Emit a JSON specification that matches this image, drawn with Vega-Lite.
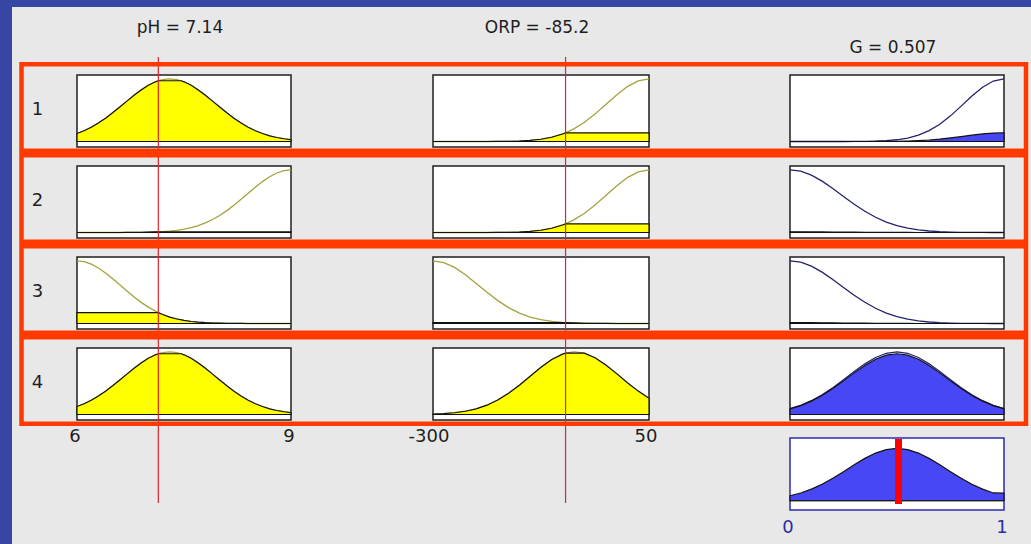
{
"$schema":"https://vega.github.io/schema/vega-lite/v6.json",
"background":"#3746a5",
"padding":{"left":12,"top":7,"right":0,"bottom":0},
"columns":3,
"spacing":0,
"bounds":"flush",
"config":{"view":{"stroke":null,"strokeWidth":0,"fill":"#e8e8e8"},"concat":{"spacing":0},"text":{"font":"DejaVu Sans"}},
"datasets":{
"vars":[{"var":"pH","lo":6,"hi":9,"value":7.14,"title":"pH = 7.14"},{"var":"ORP","lo":-300,"hi":50,"value":-85.2,"title":"ORP = -85.2"},{"var":"G","lo":0,"hi":1,"value":0.507,"title":"G = 0.507"}],
"rules":[{"rule":1,"label":"1"},{"rule":2,"label":"2"},{"rule":3,"label":"3"},{"rule":4,"label":"4"}],
"agg":[{"x":0,"mu":0.0912},{"x":0.05,"mu":0.1429},{"x":0.1,"mu":0.2136},{"x":0.15,"mu":0.3045},{"x":0.2,"mu":0.4139},{"x":0.25,"mu":0.5367},{"x":0.3,"mu":0.664},{"x":0.35,"mu":0.7833},{"x":0.4,"mu":0.8816},{"x":0.45,"mu":0.9464},{"x":0.5,"mu":0.969},{"x":0.55,"mu":0.9464},{"x":0.6,"mu":0.8816},{"x":0.65,"mu":0.7833},{"x":0.7,"mu":0.664},{"x":0.75,"mu":0.5367},{"x":0.8,"mu":0.4139},{"x":0.85,"mu":0.3045},{"x":0.9,"mu":0.2136},{"x":0.95,"mu":0.1429},{"x":1,"mu":0.14}],
"mf":[
{"var":"pH","rule":1,"x":6,"mf":0.127,"fill":0.127},{"var":"pH","rule":1,"x":6.1,"mf":0.172,"fill":0.172},{"var":"pH","rule":1,"x":6.2,"mf":0.228,"fill":0.228},{"var":"pH","rule":1,"x":6.3,"mf":0.295,"fill":0.295},{"var":"pH","rule":1,"x":6.4,"mf":0.372,"fill":0.372},{"var":"pH","rule":1,"x":6.5,"mf":0.458,"fill":0.458},{"var":"pH","rule":1,"x":6.6,"mf":0.55,"fill":0.55},{"var":"pH","rule":1,"x":6.7,"mf":0.644,"fill":0.644},{"var":"pH","rule":1,"x":6.8,"mf":0.737,"fill":0.737},{"var":"pH","rule":1,"x":6.9,"mf":0.823,"fill":0.823},{"var":"pH","rule":1,"x":7,"mf":0.896,"fill":0.896},{"var":"pH","rule":1,"x":7.1,"mf":0.952,"fill":0.952},{"var":"pH","rule":1,"x":7.14,"mf":0.969,"fill":0.969},{"var":"pH","rule":1,"x":7.2,"mf":0.988,"fill":0.969},{"var":"pH","rule":1,"x":7.3,"mf":1,"fill":0.969},{"var":"pH","rule":1,"x":7.4,"mf":0.988,"fill":0.969},{"var":"pH","rule":1,"x":7.46,"mf":0.969,"fill":0.969},{"var":"pH","rule":1,"x":7.5,"mf":0.952,"fill":0.952},{"var":"pH","rule":1,"x":7.6,"mf":0.896,"fill":0.896},{"var":"pH","rule":1,"x":7.7,"mf":0.823,"fill":0.823},{"var":"pH","rule":1,"x":7.8,"mf":0.737,"fill":0.737},{"var":"pH","rule":1,"x":7.9,"mf":0.644,"fill":0.644},{"var":"pH","rule":1,"x":8,"mf":0.55,"fill":0.55},{"var":"pH","rule":1,"x":8.1,"mf":0.458,"fill":0.458},{"var":"pH","rule":1,"x":8.2,"mf":0.372,"fill":0.372},{"var":"pH","rule":1,"x":8.3,"mf":0.295,"fill":0.295},{"var":"pH","rule":1,"x":8.4,"mf":0.228,"fill":0.228},{"var":"pH","rule":1,"x":8.5,"mf":0.172,"fill":0.172},{"var":"pH","rule":1,"x":8.6,"mf":0.127,"fill":0.127},{"var":"pH","rule":1,"x":8.7,"mf":0.091,"fill":0.091},{"var":"pH","rule":1,"x":8.8,"mf":0.064,"fill":0.064},{"var":"pH","rule":1,"x":8.9,"mf":0.044,"fill":0.044},{"var":"pH","rule":1,"x":9,"mf":0.029,"fill":0.029},
{"var":"pH","rule":4,"x":6,"mf":0.127,"fill":0.127},{"var":"pH","rule":4,"x":6.1,"mf":0.172,"fill":0.172},{"var":"pH","rule":4,"x":6.2,"mf":0.228,"fill":0.228},{"var":"pH","rule":4,"x":6.3,"mf":0.295,"fill":0.295},{"var":"pH","rule":4,"x":6.4,"mf":0.372,"fill":0.372},{"var":"pH","rule":4,"x":6.5,"mf":0.458,"fill":0.458},{"var":"pH","rule":4,"x":6.6,"mf":0.55,"fill":0.55},{"var":"pH","rule":4,"x":6.7,"mf":0.644,"fill":0.644},{"var":"pH","rule":4,"x":6.8,"mf":0.737,"fill":0.737},{"var":"pH","rule":4,"x":6.9,"mf":0.823,"fill":0.823},{"var":"pH","rule":4,"x":7,"mf":0.896,"fill":0.896},{"var":"pH","rule":4,"x":7.1,"mf":0.952,"fill":0.952},{"var":"pH","rule":4,"x":7.14,"mf":0.969,"fill":0.969},{"var":"pH","rule":4,"x":7.2,"mf":0.988,"fill":0.969},{"var":"pH","rule":4,"x":7.3,"mf":1,"fill":0.969},{"var":"pH","rule":4,"x":7.4,"mf":0.988,"fill":0.969},{"var":"pH","rule":4,"x":7.46,"mf":0.969,"fill":0.969},{"var":"pH","rule":4,"x":7.5,"mf":0.952,"fill":0.952},{"var":"pH","rule":4,"x":7.6,"mf":0.896,"fill":0.896},{"var":"pH","rule":4,"x":7.7,"mf":0.823,"fill":0.823},{"var":"pH","rule":4,"x":7.8,"mf":0.737,"fill":0.737},{"var":"pH","rule":4,"x":7.9,"mf":0.644,"fill":0.644},{"var":"pH","rule":4,"x":8,"mf":0.55,"fill":0.55},{"var":"pH","rule":4,"x":8.1,"mf":0.458,"fill":0.458},{"var":"pH","rule":4,"x":8.2,"mf":0.372,"fill":0.372},{"var":"pH","rule":4,"x":8.3,"mf":0.295,"fill":0.295},{"var":"pH","rule":4,"x":8.4,"mf":0.228,"fill":0.228},{"var":"pH","rule":4,"x":8.5,"mf":0.172,"fill":0.172},{"var":"pH","rule":4,"x":8.6,"mf":0.127,"fill":0.127},{"var":"pH","rule":4,"x":8.7,"mf":0.091,"fill":0.091},{"var":"pH","rule":4,"x":8.8,"mf":0.064,"fill":0.064},{"var":"pH","rule":4,"x":8.9,"mf":0.044,"fill":0.044},{"var":"pH","rule":4,"x":9,"mf":0.029,"fill":0.029},
{"var":"pH","rule":2,"x":6,"mf":0,"fill":0},{"var":"pH","rule":2,"x":6.2,"mf":0,"fill":0},{"var":"pH","rule":2,"x":6.4,"mf":0.0001,"fill":0.0001},{"var":"pH","rule":2,"x":6.5,"mf":0.0003,"fill":0.0003},{"var":"pH","rule":2,"x":6.6,"mf":0.0006,"fill":0.0006},{"var":"pH","rule":2,"x":6.7,"mf":0.001,"fill":0.001},{"var":"pH","rule":2,"x":6.8,"mf":0.0018,"fill":0.0018},{"var":"pH","rule":2,"x":6.9,"mf":0.0032,"fill":0.0032},{"var":"pH","rule":2,"x":7,"mf":0.0055,"fill":0.0055},{"var":"pH","rule":2,"x":7.1,"mf":0.0091,"fill":0.0091},{"var":"pH","rule":2,"x":7.14,"mf":0.0111,"fill":0.0111},{"var":"pH","rule":2,"x":7.2,"mf":0.0148,"fill":0.0111},{"var":"pH","rule":2,"x":7.3,"mf":0.0233,"fill":0.0111},{"var":"pH","rule":2,"x":7.4,"mf":0.0358,"fill":0.0111},{"var":"pH","rule":2,"x":7.5,"mf":0.0536,"fill":0.0111},{"var":"pH","rule":2,"x":7.6,"mf":0.0782,"fill":0.0111},{"var":"pH","rule":2,"x":7.7,"mf":0.111,"fill":0.0111},{"var":"pH","rule":2,"x":7.8,"mf":0.154,"fill":0.0111},{"var":"pH","rule":2,"x":7.9,"mf":0.207,"fill":0.0111},{"var":"pH","rule":2,"x":8,"mf":0.272,"fill":0.0111},{"var":"pH","rule":2,"x":8.1,"mf":0.349,"fill":0.0111},{"var":"pH","rule":2,"x":8.2,"mf":0.435,"fill":0.0111},{"var":"pH","rule":2,"x":8.3,"mf":0.529,"fill":0.0111},{"var":"pH","rule":2,"x":8.4,"mf":0.626,"fill":0.0111},{"var":"pH","rule":2,"x":8.5,"mf":0.722,"fill":0.0111},{"var":"pH","rule":2,"x":8.6,"mf":0.812,"fill":0.0111},{"var":"pH","rule":2,"x":8.7,"mf":0.89,"fill":0.0111},{"var":"pH","rule":2,"x":8.8,"mf":0.949,"fill":0.0111},{"var":"pH","rule":2,"x":8.9,"mf":0.987,"fill":0.0111},{"var":"pH","rule":2,"x":9,"mf":1,"fill":0.0111},
{"var":"pH","rule":3,"x":6,"mf":1,"fill":0.174},{"var":"pH","rule":3,"x":6.1,"mf":0.987,"fill":0.174},{"var":"pH","rule":3,"x":6.2,"mf":0.948,"fill":0.174},{"var":"pH","rule":3,"x":6.3,"mf":0.886,"fill":0.174},{"var":"pH","rule":3,"x":6.4,"mf":0.807,"fill":0.174},{"var":"pH","rule":3,"x":6.5,"mf":0.715,"fill":0.174},{"var":"pH","rule":3,"x":6.6,"mf":0.617,"fill":0.174},{"var":"pH","rule":3,"x":6.7,"mf":0.518,"fill":0.174},{"var":"pH","rule":3,"x":6.8,"mf":0.423,"fill":0.174},{"var":"pH","rule":3,"x":6.9,"mf":0.337,"fill":0.174},{"var":"pH","rule":3,"x":7,"mf":0.261,"fill":0.174},{"var":"pH","rule":3,"x":7.1,"mf":0.197,"fill":0.174},{"var":"pH","rule":3,"x":7.14,"mf":0.174,"fill":0.174},{"var":"pH","rule":3,"x":7.2,"mf":0.144,"fill":0.144},{"var":"pH","rule":3,"x":7.3,"mf":0.103,"fill":0.103},{"var":"pH","rule":3,"x":7.4,"mf":0.072,"fill":0.072},{"var":"pH","rule":3,"x":7.5,"mf":0.049,"fill":0.049},{"var":"pH","rule":3,"x":7.6,"mf":0.032,"fill":0.032},{"var":"pH","rule":3,"x":7.7,"mf":0.021,"fill":0.021},{"var":"pH","rule":3,"x":7.8,"mf":0.013,"fill":0.013},{"var":"pH","rule":3,"x":7.9,"mf":0.008,"fill":0.008},{"var":"pH","rule":3,"x":8,"mf":0.005,"fill":0.005},{"var":"pH","rule":3,"x":8.1,"mf":0.003,"fill":0.003},{"var":"pH","rule":3,"x":8.2,"mf":0.0015,"fill":0.0015},{"var":"pH","rule":3,"x":8.3,"mf":0.0008,"fill":0.0008},{"var":"pH","rule":3,"x":8.4,"mf":0.0004,"fill":0.0004},{"var":"pH","rule":3,"x":8.6,"mf":0,"fill":0},{"var":"pH","rule":3,"x":9,"mf":0,"fill":0},
{"var":"ORP","rule":1,"x":-300,"mf":0,"fill":0},{"var":"ORP","rule":1,"x":-265,"mf":0,"fill":0},{"var":"ORP","rule":1,"x":-247.5,"mf":0.0001,"fill":0.0001},{"var":"ORP","rule":1,"x":-230,"mf":0.0002,"fill":0.0002},{"var":"ORP","rule":1,"x":-212.5,"mf":0.0006,"fill":0.0006},{"var":"ORP","rule":1,"x":-195,"mf":0.0015,"fill":0.0015},{"var":"ORP","rule":1,"x":-177.5,"mf":0.0037,"fill":0.0037},{"var":"ORP","rule":1,"x":-160,"mf":0.0085,"fill":0.0085},{"var":"ORP","rule":1,"x":-142.5,"mf":0.0182,"fill":0.0182},{"var":"ORP","rule":1,"x":-125,"mf":0.0365,"fill":0.0365},{"var":"ORP","rule":1,"x":-107.5,"mf":0.0684,"fill":0.0684},{"var":"ORP","rule":1,"x":-90,"mf":0.12,"fill":0.12},{"var":"ORP","rule":1,"x":-85.2,"mf":0.1385,"fill":0.1385},{"var":"ORP","rule":1,"x":-72.5,"mf":0.1974,"fill":0.1385},{"var":"ORP","rule":1,"x":-55,"mf":0.3036,"fill":0.1385},{"var":"ORP","rule":1,"x":-37.5,"mf":0.437,"fill":0.1385},{"var":"ORP","rule":1,"x":-20,"mf":0.5887,"fill":0.1385},{"var":"ORP","rule":1,"x":-2.5,"mf":0.7423,"fill":0.1385},{"var":"ORP","rule":1,"x":15,"mf":0.8759,"fill":0.1385},{"var":"ORP","rule":1,"x":32.5,"mf":0.9674,"fill":0.1385},{"var":"ORP","rule":1,"x":50,"mf":1,"fill":0.1385},
{"var":"ORP","rule":2,"x":-300,"mf":0,"fill":0},{"var":"ORP","rule":2,"x":-265,"mf":0,"fill":0},{"var":"ORP","rule":2,"x":-247.5,"mf":0.0001,"fill":0.0001},{"var":"ORP","rule":2,"x":-230,"mf":0.0002,"fill":0.0002},{"var":"ORP","rule":2,"x":-212.5,"mf":0.0006,"fill":0.0006},{"var":"ORP","rule":2,"x":-195,"mf":0.0015,"fill":0.0015},{"var":"ORP","rule":2,"x":-177.5,"mf":0.0037,"fill":0.0037},{"var":"ORP","rule":2,"x":-160,"mf":0.0085,"fill":0.0085},{"var":"ORP","rule":2,"x":-142.5,"mf":0.0182,"fill":0.0182},{"var":"ORP","rule":2,"x":-125,"mf":0.0365,"fill":0.0365},{"var":"ORP","rule":2,"x":-107.5,"mf":0.0684,"fill":0.0684},{"var":"ORP","rule":2,"x":-90,"mf":0.12,"fill":0.12},{"var":"ORP","rule":2,"x":-85.2,"mf":0.1385,"fill":0.1385},{"var":"ORP","rule":2,"x":-72.5,"mf":0.1974,"fill":0.1385},{"var":"ORP","rule":2,"x":-55,"mf":0.3036,"fill":0.1385},{"var":"ORP","rule":2,"x":-37.5,"mf":0.437,"fill":0.1385},{"var":"ORP","rule":2,"x":-20,"mf":0.5887,"fill":0.1385},{"var":"ORP","rule":2,"x":-2.5,"mf":0.7423,"fill":0.1385},{"var":"ORP","rule":2,"x":15,"mf":0.8759,"fill":0.1385},{"var":"ORP","rule":2,"x":32.5,"mf":0.9674,"fill":0.1385},{"var":"ORP","rule":2,"x":50,"mf":1,"fill":0.1385},
{"var":"ORP","rule":3,"x":-300,"mf":1,"fill":0.0148},{"var":"ORP","rule":3,"x":-282.5,"mf":0.9724,"fill":0.0148},{"var":"ORP","rule":3,"x":-265,"mf":0.8942,"fill":0.0148},{"var":"ORP","rule":3,"x":-247.5,"mf":0.7775,"fill":0.0148},{"var":"ORP","rule":3,"x":-230,"mf":0.6393,"fill":0.0148},{"var":"ORP","rule":3,"x":-212.5,"mf":0.497,"fill":0.0148},{"var":"ORP","rule":3,"x":-195,"mf":0.3654,"fill":0.0148},{"var":"ORP","rule":3,"x":-177.5,"mf":0.2541,"fill":0.0148},{"var":"ORP","rule":3,"x":-160,"mf":0.167,"fill":0.0148},{"var":"ORP","rule":3,"x":-142.5,"mf":0.1038,"fill":0.0148},{"var":"ORP","rule":3,"x":-125,"mf":0.061,"fill":0.0148},{"var":"ORP","rule":3,"x":-107.5,"mf":0.0339,"fill":0.0148},{"var":"ORP","rule":3,"x":-90,"mf":0.0178,"fill":0.0148},{"var":"ORP","rule":3,"x":-85.2,"mf":0.0148,"fill":0.0148},{"var":"ORP","rule":3,"x":-72.5,"mf":0.0089,"fill":0.0089},{"var":"ORP","rule":3,"x":-55,"mf":0.0042,"fill":0.0042},{"var":"ORP","rule":3,"x":-37.5,"mf":0.0019,"fill":0.0019},{"var":"ORP","rule":3,"x":-20,"mf":0.0008,"fill":0.0008},{"var":"ORP","rule":3,"x":-2.5,"mf":0.0003,"fill":0.0003},{"var":"ORP","rule":3,"x":15,"mf":0.0001,"fill":0.0001},{"var":"ORP","rule":3,"x":32.5,"mf":0,"fill":0},{"var":"ORP","rule":3,"x":50,"mf":0,"fill":0},
{"var":"ORP","rule":4,"x":-300,"mf":0.007,"fill":0.007},{"var":"ORP","rule":4,"x":-282.5,"mf":0.0145,"fill":0.0145},{"var":"ORP","rule":4,"x":-265,"mf":0.0282,"fill":0.0282},{"var":"ORP","rule":4,"x":-247.5,"mf":0.052,"fill":0.052},{"var":"ORP","rule":4,"x":-230,"mf":0.0905,"fill":0.0905},{"var":"ORP","rule":4,"x":-212.5,"mf":0.1488,"fill":0.1488},{"var":"ORP","rule":4,"x":-195,"mf":0.2309,"fill":0.2309},{"var":"ORP","rule":4,"x":-177.5,"mf":0.3381,"fill":0.3381},{"var":"ORP","rule":4,"x":-160,"mf":0.4677,"fill":0.4677},{"var":"ORP","rule":4,"x":-142.5,"mf":0.6107,"fill":0.6107},{"var":"ORP","rule":4,"x":-125,"mf":0.7529,"fill":0.7529},{"var":"ORP","rule":4,"x":-107.5,"mf":0.8764,"fill":0.8764},{"var":"ORP","rule":4,"x":-90,"mf":0.9632,"fill":0.9632},{"var":"ORP","rule":4,"x":-85.2,"mf":0.9786,"fill":0.9786},{"var":"ORP","rule":4,"x":-72.5,"mf":0.9994,"fill":0.9786},{"var":"ORP","rule":4,"x":-70,"mf":1,"fill":0.9786},{"var":"ORP","rule":4,"x":-55,"mf":0.9791,"fill":0.9786},{"var":"ORP","rule":4,"x":-37.5,"mf":0.9057,"fill":0.9057},{"var":"ORP","rule":4,"x":-20,"mf":0.7909,"fill":0.7909},{"var":"ORP","rule":4,"x":-2.5,"mf":0.6522,"fill":0.6522},{"var":"ORP","rule":4,"x":15,"mf":0.5077,"fill":0.5077},{"var":"ORP","rule":4,"x":32.5,"mf":0.3732,"fill":0.3732},{"var":"ORP","rule":4,"x":50,"mf":0.259,"fill":0.259},
{"var":"G","rule":1,"x":0,"mf":0,"fill":0},{"var":"G","rule":1,"x":0.15,"mf":0,"fill":0},{"var":"G","rule":1,"x":0.2,"mf":0.0001,"fill":0},{"var":"G","rule":1,"x":0.25,"mf":0.0003,"fill":0},{"var":"G","rule":1,"x":0.3,"mf":0.0009,"fill":0.0001},{"var":"G","rule":1,"x":0.35,"mf":0.0024,"fill":0.0003},{"var":"G","rule":1,"x":0.4,"mf":0.0058,"fill":0.0008},{"var":"G","rule":1,"x":0.45,"mf":0.0132,"fill":0.0018},{"var":"G","rule":1,"x":0.5,"mf":0.028,"fill":0.0039},{"var":"G","rule":1,"x":0.55,"mf":0.0553,"fill":0.0077},{"var":"G","rule":1,"x":0.6,"mf":0.1015,"fill":0.0142},{"var":"G","rule":1,"x":0.65,"mf":0.1735,"fill":0.0243},{"var":"G","rule":1,"x":0.7,"mf":0.2762,"fill":0.0387},{"var":"G","rule":1,"x":0.75,"mf":0.4092,"fill":0.0573},{"var":"G","rule":1,"x":0.8,"mf":0.5645,"fill":0.079},{"var":"G","rule":1,"x":0.85,"mf":0.7249,"fill":0.1015},{"var":"G","rule":1,"x":0.9,"mf":0.8668,"fill":0.1214},{"var":"G","rule":1,"x":0.95,"mf":0.9649,"fill":0.1351},{"var":"G","rule":1,"x":1,"mf":1,"fill":0.14},
{"var":"G","rule":2,"x":0,"mf":1,"fill":0.011},{"var":"G","rule":2,"x":0.05,"mf":0.9782,"fill":0.0108},{"var":"G","rule":2,"x":0.1,"mf":0.9155,"fill":0.0101},{"var":"G","rule":2,"x":0.15,"mf":0.8199,"fill":0.009},{"var":"G","rule":2,"x":0.2,"mf":0.7025,"fill":0.0077},{"var":"G","rule":2,"x":0.25,"mf":0.576,"fill":0.0063},{"var":"G","rule":2,"x":0.3,"mf":0.4519,"fill":0.005},{"var":"G","rule":2,"x":0.35,"mf":0.3392,"fill":0.0037},{"var":"G","rule":2,"x":0.4,"mf":0.2436,"fill":0.0027},{"var":"G","rule":2,"x":0.45,"mf":0.1674,"fill":0.0018},{"var":"G","rule":2,"x":0.5,"mf":0.1101,"fill":0.0012},{"var":"G","rule":2,"x":0.55,"mf":0.0692,"fill":0.0008},{"var":"G","rule":2,"x":0.6,"mf":0.0417,"fill":0.0005},{"var":"G","rule":2,"x":0.65,"mf":0.024,"fill":0.0003},{"var":"G","rule":2,"x":0.7,"mf":0.0132,"fill":0.0001},{"var":"G","rule":2,"x":0.75,"mf":0.007,"fill":0},{"var":"G","rule":2,"x":0.8,"mf":0.0035,"fill":0},{"var":"G","rule":2,"x":0.85,"mf":0.0017,"fill":0},{"var":"G","rule":2,"x":0.9,"mf":0.0008,"fill":0},{"var":"G","rule":2,"x":0.95,"mf":0.0003,"fill":0},{"var":"G","rule":2,"x":1,"mf":0.0001,"fill":0},
{"var":"G","rule":3,"x":0,"mf":1,"fill":0.0148},{"var":"G","rule":3,"x":0.05,"mf":0.9782,"fill":0.0145},{"var":"G","rule":3,"x":0.1,"mf":0.9155,"fill":0.0135},{"var":"G","rule":3,"x":0.15,"mf":0.8199,"fill":0.0121},{"var":"G","rule":3,"x":0.2,"mf":0.7025,"fill":0.0104},{"var":"G","rule":3,"x":0.25,"mf":0.576,"fill":0.0085},{"var":"G","rule":3,"x":0.3,"mf":0.4519,"fill":0.0067},{"var":"G","rule":3,"x":0.35,"mf":0.3392,"fill":0.005},{"var":"G","rule":3,"x":0.4,"mf":0.2436,"fill":0.0036},{"var":"G","rule":3,"x":0.45,"mf":0.1674,"fill":0.0025},{"var":"G","rule":3,"x":0.5,"mf":0.1101,"fill":0.0016},{"var":"G","rule":3,"x":0.55,"mf":0.0692,"fill":0.001},{"var":"G","rule":3,"x":0.6,"mf":0.0417,"fill":0.0006},{"var":"G","rule":3,"x":0.65,"mf":0.024,"fill":0.0004},{"var":"G","rule":3,"x":0.7,"mf":0.0132,"fill":0.0002},{"var":"G","rule":3,"x":0.75,"mf":0.007,"fill":0.0001},{"var":"G","rule":3,"x":0.8,"mf":0.0035,"fill":0},{"var":"G","rule":3,"x":0.85,"mf":0.0017,"fill":0},{"var":"G","rule":3,"x":0.9,"mf":0.0008,"fill":0},{"var":"G","rule":3,"x":0.95,"mf":0.0003,"fill":0},{"var":"G","rule":3,"x":1,"mf":0.0001,"fill":0},
{"var":"G","rule":4,"x":0,"mf":0.0941,"fill":0.0912},{"var":"G","rule":4,"x":0.05,"mf":0.1475,"fill":0.1429},{"var":"G","rule":4,"x":0.1,"mf":0.2204,"fill":0.2136},{"var":"G","rule":4,"x":0.15,"mf":0.3142,"fill":0.3045},{"var":"G","rule":4,"x":0.2,"mf":0.4271,"fill":0.4139},{"var":"G","rule":4,"x":0.25,"mf":0.5539,"fill":0.5367},{"var":"G","rule":4,"x":0.3,"mf":0.6852,"fill":0.664},{"var":"G","rule":4,"x":0.35,"mf":0.8084,"fill":0.7833},{"var":"G","rule":4,"x":0.4,"mf":0.9098,"fill":0.8816},{"var":"G","rule":4,"x":0.45,"mf":0.9767,"fill":0.9464},{"var":"G","rule":4,"x":0.5,"mf":1,"fill":0.969},{"var":"G","rule":4,"x":0.55,"mf":0.9767,"fill":0.9464},{"var":"G","rule":4,"x":0.6,"mf":0.9098,"fill":0.8816},{"var":"G","rule":4,"x":0.65,"mf":0.8084,"fill":0.7833},{"var":"G","rule":4,"x":0.7,"mf":0.6852,"fill":0.664},{"var":"G","rule":4,"x":0.75,"mf":0.5539,"fill":0.5367},{"var":"G","rule":4,"x":0.8,"mf":0.4271,"fill":0.4139},{"var":"G","rule":4,"x":0.85,"mf":0.3142,"fill":0.3045},{"var":"G","rule":4,"x":0.9,"mf":0.2204,"fill":0.2136},{"var":"G","rule":4,"x":0.95,"mf":0.1475,"fill":0.1429},{"var":"G","rule":4,"x":1,"mf":0.0941,"fill":0.0912}
]},
"concat":[
{"width":350,"height":55,"layer":[
{"data":{"name":"vars"},"transform":[{"filter":"datum.var==='pH'"}],"mark":{"type":"text","fontSize":17,"color":"#1e1e1e"},"encoding":{"x":{"datum":7.444,"type":"quantitative","scale":{"domain":[5.0888,9.9953],"nice":false,"zero":false},"axis":null},"y":{"datum":34,"type":"quantitative","scale":{"domain":[0,55],"nice":false,"zero":false},"axis":null},"text":{"field":"title","type":"nominal"}}},
{"data":{"name":"vars"},"transform":[{"filter":"datum.var==='pH'"}],"mark":{"type":"rule","color":"#e0242c","strokeWidth":1.2},"encoding":{"x":{"field":"value","type":"quantitative","axis":null},"y":{"datum":5,"type":"quantitative","axis":null},"y2":{"datum":0}}}
]},
{"width":358,"height":55,"layer":[
{"data":{"name":"vars"},"transform":[{"filter":"datum.var==='ORP'"}],"mark":{"type":"text","fontSize":17,"color":"#1e1e1e"},"encoding":{"x":{"datum":-131.5,"type":"quantitative","scale":{"domain":[-415.05,165.05],"nice":false,"zero":false},"axis":null},"y":{"datum":34,"type":"quantitative","scale":{"domain":[0,55],"nice":false,"zero":false},"axis":null},"text":{"field":"title","type":"nominal"}}},
{"data":{"name":"vars"},"transform":[{"filter":"datum.var==='ORP'"}],"mark":{"type":"rule","color":"#e0242c","strokeWidth":1.2},"encoding":{"x":{"field":"value","type":"quantitative","axis":null},"y":{"datum":5,"type":"quantitative","axis":null},"y2":{"datum":0}}}
]},
{"width":311,"height":55,"layer":[
{"data":{"name":"vars"},"transform":[{"filter":"datum.var==='G'"}],"mark":{"type":"text","fontSize":17,"color":"#1e1e1e"},"encoding":{"x":{"datum":0.481,"type":"quantitative","scale":{"domain":[-0.3271,1.1262],"nice":false,"zero":false},"axis":null},"y":{"datum":14,"type":"quantitative","scale":{"domain":[0,55],"nice":false,"zero":false},"axis":null},"text":{"field":"title","type":"nominal"}}}
]},

{"width":350,"height":91,"layer":[
{"data":{"name":"vars"},"transform":[{"filter":"datum.var==='pH'"}],"mark":{"type":"rect","fill":"#ffffff","stroke":"#1f1f1f","strokeWidth":1.5},"encoding":{"x":{"field":"lo","type":"quantitative","scale":{"domain":[5.0888,9.9953],"nice":false,"zero":false},"axis":null},"x2":{"field":"hi"},"y":{"datum":-0.088,"type":"quantitative","scale":{"domain":[-0.183,1.268],"nice":false,"zero":false},"axis":null},"y2":{"datum":1.06}}},
{"data":{"name":"vars"},"transform":[{"filter":"datum.var==='pH'"}],"mark":{"type":"rule","color":"#1f1f1f","strokeWidth":1},"encoding":{"x":{"field":"lo","type":"quantitative","axis":null},"x2":{"field":"hi"},"y":{"datum":0,"type":"quantitative","axis":null}}},
{"data":{"name":"mf"},"transform":[{"filter":"datum.var==='pH'&&datum.rule===1"}],"mark":{"type":"line","color":"#a3a33c","strokeWidth":1.3},"encoding":{"x":{"field":"x","type":"quantitative","axis":null},"y":{"field":"mf","type":"quantitative","axis":null}}},
{"data":{"name":"mf"},"transform":[{"filter":"datum.var==='pH'&&datum.rule===1"}],"mark":{"type":"area","fill":"#ffff00","stroke":"#111111","strokeWidth":1.2},"encoding":{"x":{"field":"x","type":"quantitative","axis":null},"y":{"field":"fill","type":"quantitative","axis":null,"stack":null},"y2":{"datum":0}}},
{"data":{"name":"vars"},"transform":[{"filter":"datum.var==='pH'"}],"mark":{"type":"rule","color":"#e0242c","strokeWidth":1.2},"encoding":{"x":{"field":"value","type":"quantitative","axis":null}}},
{"data":{"name":"vars"},"transform":[{"filter":"datum.var==='pH'"}],"mark":{"type":"rule","color":"#ff3a00","strokeWidth":4.5},"encoding":{"x":{"datum":5.222,"type":"quantitative","axis":null},"x2":{"datum":9.9953},"y":{"datum":1.232,"type":"quantitative","axis":null}}},
{"data":{"name":"vars"},"transform":[{"filter":"datum.var==='pH'"}],"mark":{"type":"rule","color":"#ff3a00","strokeWidth":4.5},"encoding":{"x":{"datum":5.222,"type":"quantitative","axis":null},"x2":{"datum":9.9953},"y":{"datum":-0.147,"type":"quantitative","axis":null}}},
{"data":{"name":"vars"},"transform":[{"filter":"datum.var==='pH'"}],"mark":{"type":"rule","color":"#ff3a00","strokeWidth":4.5},"encoding":{"x":{"datum":5.222,"type":"quantitative","axis":null}}},
{"data":{"name":"rules"},"transform":[{"filter":"datum.rule===1"}],"mark":{"type":"text","fontSize":18,"color":"#1f1f1f"},"encoding":{"x":{"datum":5.446,"type":"quantitative","axis":null},"y":{"datum":0.5,"type":"quantitative","axis":null},"text":{"field":"label","type":"nominal"}}}
]},
{"width":358,"height":91,"layer":[
{"data":{"name":"vars"},"transform":[{"filter":"datum.var==='ORP'"}],"mark":{"type":"rect","fill":"#ffffff","stroke":"#1f1f1f","strokeWidth":1.5},"encoding":{"x":{"field":"lo","type":"quantitative","scale":{"domain":[-415.05,165.05],"nice":false,"zero":false},"axis":null},"x2":{"field":"hi"},"y":{"datum":-0.088,"type":"quantitative","scale":{"domain":[-0.183,1.268],"nice":false,"zero":false},"axis":null},"y2":{"datum":1.06}}},
{"data":{"name":"vars"},"transform":[{"filter":"datum.var==='ORP'"}],"mark":{"type":"rule","color":"#1f1f1f","strokeWidth":1},"encoding":{"x":{"field":"lo","type":"quantitative","axis":null},"x2":{"field":"hi"},"y":{"datum":0,"type":"quantitative","axis":null}}},
{"data":{"name":"mf"},"transform":[{"filter":"datum.var==='ORP'&&datum.rule===1"}],"mark":{"type":"line","color":"#a3a33c","strokeWidth":1.3},"encoding":{"x":{"field":"x","type":"quantitative","axis":null},"y":{"field":"mf","type":"quantitative","axis":null}}},
{"data":{"name":"mf"},"transform":[{"filter":"datum.var==='ORP'&&datum.rule===1"}],"mark":{"type":"area","fill":"#ffff00","stroke":"#111111","strokeWidth":1.2},"encoding":{"x":{"field":"x","type":"quantitative","axis":null},"y":{"field":"fill","type":"quantitative","axis":null,"stack":null},"y2":{"datum":0}}},
{"data":{"name":"vars"},"transform":[{"filter":"datum.var==='ORP'"}],"mark":{"type":"rule","color":"#e0242c","strokeWidth":1.2},"encoding":{"x":{"field":"value","type":"quantitative","axis":null}}},
{"data":{"name":"vars"},"transform":[{"filter":"datum.var==='ORP'"}],"mark":{"type":"rule","color":"#ff3a00","strokeWidth":4.5},"encoding":{"y":{"datum":1.232,"type":"quantitative","axis":null}}},
{"data":{"name":"vars"},"transform":[{"filter":"datum.var==='ORP'"}],"mark":{"type":"rule","color":"#ff3a00","strokeWidth":4.5},"encoding":{"y":{"datum":-0.147,"type":"quantitative","axis":null}}}
]},
{"width":311,"height":91,"layer":[
{"data":{"name":"vars"},"transform":[{"filter":"datum.var==='G'"}],"mark":{"type":"rect","fill":"#ffffff","stroke":"#1f1f1f","strokeWidth":1.5},"encoding":{"x":{"field":"lo","type":"quantitative","scale":{"domain":[-0.3271,1.1262],"nice":false,"zero":false},"axis":null},"x2":{"field":"hi"},"y":{"datum":-0.088,"type":"quantitative","scale":{"domain":[-0.183,1.268],"nice":false,"zero":false},"axis":null},"y2":{"datum":1.06}}},
{"data":{"name":"vars"},"transform":[{"filter":"datum.var==='G'"}],"mark":{"type":"rule","color":"#1f1f1f","strokeWidth":1},"encoding":{"x":{"field":"lo","type":"quantitative","axis":null},"x2":{"field":"hi"},"y":{"datum":0,"type":"quantitative","axis":null}}},
{"data":{"name":"mf"},"transform":[{"filter":"datum.var==='G'&&datum.rule===1"}],"mark":{"type":"line","color":"#23236e","strokeWidth":1.3},"encoding":{"x":{"field":"x","type":"quantitative","axis":null},"y":{"field":"mf","type":"quantitative","axis":null}}},
{"data":{"name":"mf"},"transform":[{"filter":"datum.var==='G'&&datum.rule===1"}],"mark":{"type":"area","fill":"#4747f5","stroke":"#111111","strokeWidth":1.2},"encoding":{"x":{"field":"x","type":"quantitative","axis":null},"y":{"field":"fill","type":"quantitative","axis":null,"stack":null},"y2":{"datum":0}}},
{"data":{"name":"vars"},"transform":[{"filter":"datum.var==='G'"}],"mark":{"type":"rule","color":"#ff3a00","strokeWidth":4.5},"encoding":{"x":{"datum":-0.3271,"type":"quantitative","axis":null},"x2":{"datum":1.1028},"y":{"datum":1.232,"type":"quantitative","axis":null}}},
{"data":{"name":"vars"},"transform":[{"filter":"datum.var==='G'"}],"mark":{"type":"rule","color":"#ff3a00","strokeWidth":4.5},"encoding":{"x":{"datum":-0.3271,"type":"quantitative","axis":null},"x2":{"datum":1.1028},"y":{"datum":-0.147,"type":"quantitative","axis":null}}},
{"data":{"name":"vars"},"transform":[{"filter":"datum.var==='G'"}],"mark":{"type":"rule","color":"#ff3a00","strokeWidth":4.5},"encoding":{"x":{"datum":1.1028,"type":"quantitative","axis":null}}}
]},

{"width":350,"height":91,"layer":[
{"data":{"name":"vars"},"transform":[{"filter":"datum.var==='pH'"}],"mark":{"type":"rect","fill":"#ffffff","stroke":"#1f1f1f","strokeWidth":1.5},"encoding":{"x":{"field":"lo","type":"quantitative","scale":{"domain":[5.0888,9.9953],"nice":false,"zero":false},"axis":null},"x2":{"field":"hi"},"y":{"datum":-0.088,"type":"quantitative","scale":{"domain":[-0.183,1.268],"nice":false,"zero":false},"axis":null},"y2":{"datum":1.06}}},
{"data":{"name":"vars"},"transform":[{"filter":"datum.var==='pH'"}],"mark":{"type":"rule","color":"#1f1f1f","strokeWidth":1},"encoding":{"x":{"field":"lo","type":"quantitative","axis":null},"x2":{"field":"hi"},"y":{"datum":0,"type":"quantitative","axis":null}}},
{"data":{"name":"mf"},"transform":[{"filter":"datum.var==='pH'&&datum.rule===2"}],"mark":{"type":"line","color":"#a3a33c","strokeWidth":1.3},"encoding":{"x":{"field":"x","type":"quantitative","axis":null},"y":{"field":"mf","type":"quantitative","axis":null}}},
{"data":{"name":"mf"},"transform":[{"filter":"datum.var==='pH'&&datum.rule===2"}],"mark":{"type":"area","fill":"#ffff00","stroke":"#111111","strokeWidth":1.2},"encoding":{"x":{"field":"x","type":"quantitative","axis":null},"y":{"field":"fill","type":"quantitative","axis":null,"stack":null},"y2":{"datum":0}}},
{"data":{"name":"vars"},"transform":[{"filter":"datum.var==='pH'"}],"mark":{"type":"rule","color":"#e0242c","strokeWidth":1.2},"encoding":{"x":{"field":"value","type":"quantitative","axis":null}}},
{"data":{"name":"vars"},"transform":[{"filter":"datum.var==='pH'"}],"mark":{"type":"rule","color":"#ff3a00","strokeWidth":4.5},"encoding":{"x":{"datum":5.222,"type":"quantitative","axis":null},"x2":{"datum":9.9953},"y":{"datum":1.232,"type":"quantitative","axis":null}}},
{"data":{"name":"vars"},"transform":[{"filter":"datum.var==='pH'"}],"mark":{"type":"rule","color":"#ff3a00","strokeWidth":4.5},"encoding":{"x":{"datum":5.222,"type":"quantitative","axis":null},"x2":{"datum":9.9953},"y":{"datum":-0.147,"type":"quantitative","axis":null}}},
{"data":{"name":"vars"},"transform":[{"filter":"datum.var==='pH'"}],"mark":{"type":"rule","color":"#ff3a00","strokeWidth":4.5},"encoding":{"x":{"datum":5.222,"type":"quantitative","axis":null}}},
{"data":{"name":"rules"},"transform":[{"filter":"datum.rule===2"}],"mark":{"type":"text","fontSize":18,"color":"#1f1f1f"},"encoding":{"x":{"datum":5.446,"type":"quantitative","axis":null},"y":{"datum":0.5,"type":"quantitative","axis":null},"text":{"field":"label","type":"nominal"}}}
]},
{"width":358,"height":91,"layer":[
{"data":{"name":"vars"},"transform":[{"filter":"datum.var==='ORP'"}],"mark":{"type":"rect","fill":"#ffffff","stroke":"#1f1f1f","strokeWidth":1.5},"encoding":{"x":{"field":"lo","type":"quantitative","scale":{"domain":[-415.05,165.05],"nice":false,"zero":false},"axis":null},"x2":{"field":"hi"},"y":{"datum":-0.088,"type":"quantitative","scale":{"domain":[-0.183,1.268],"nice":false,"zero":false},"axis":null},"y2":{"datum":1.06}}},
{"data":{"name":"vars"},"transform":[{"filter":"datum.var==='ORP'"}],"mark":{"type":"rule","color":"#1f1f1f","strokeWidth":1},"encoding":{"x":{"field":"lo","type":"quantitative","axis":null},"x2":{"field":"hi"},"y":{"datum":0,"type":"quantitative","axis":null}}},
{"data":{"name":"mf"},"transform":[{"filter":"datum.var==='ORP'&&datum.rule===2"}],"mark":{"type":"line","color":"#a3a33c","strokeWidth":1.3},"encoding":{"x":{"field":"x","type":"quantitative","axis":null},"y":{"field":"mf","type":"quantitative","axis":null}}},
{"data":{"name":"mf"},"transform":[{"filter":"datum.var==='ORP'&&datum.rule===2"}],"mark":{"type":"area","fill":"#ffff00","stroke":"#111111","strokeWidth":1.2},"encoding":{"x":{"field":"x","type":"quantitative","axis":null},"y":{"field":"fill","type":"quantitative","axis":null,"stack":null},"y2":{"datum":0}}},
{"data":{"name":"vars"},"transform":[{"filter":"datum.var==='ORP'"}],"mark":{"type":"rule","color":"#e0242c","strokeWidth":1.2},"encoding":{"x":{"field":"value","type":"quantitative","axis":null}}},
{"data":{"name":"vars"},"transform":[{"filter":"datum.var==='ORP'"}],"mark":{"type":"rule","color":"#ff3a00","strokeWidth":4.5},"encoding":{"y":{"datum":1.232,"type":"quantitative","axis":null}}},
{"data":{"name":"vars"},"transform":[{"filter":"datum.var==='ORP'"}],"mark":{"type":"rule","color":"#ff3a00","strokeWidth":4.5},"encoding":{"y":{"datum":-0.147,"type":"quantitative","axis":null}}}
]},
{"width":311,"height":91,"layer":[
{"data":{"name":"vars"},"transform":[{"filter":"datum.var==='G'"}],"mark":{"type":"rect","fill":"#ffffff","stroke":"#1f1f1f","strokeWidth":1.5},"encoding":{"x":{"field":"lo","type":"quantitative","scale":{"domain":[-0.3271,1.1262],"nice":false,"zero":false},"axis":null},"x2":{"field":"hi"},"y":{"datum":-0.088,"type":"quantitative","scale":{"domain":[-0.183,1.268],"nice":false,"zero":false},"axis":null},"y2":{"datum":1.06}}},
{"data":{"name":"vars"},"transform":[{"filter":"datum.var==='G'"}],"mark":{"type":"rule","color":"#1f1f1f","strokeWidth":1},"encoding":{"x":{"field":"lo","type":"quantitative","axis":null},"x2":{"field":"hi"},"y":{"datum":0,"type":"quantitative","axis":null}}},
{"data":{"name":"mf"},"transform":[{"filter":"datum.var==='G'&&datum.rule===2"}],"mark":{"type":"line","color":"#23236e","strokeWidth":1.3},"encoding":{"x":{"field":"x","type":"quantitative","axis":null},"y":{"field":"mf","type":"quantitative","axis":null}}},
{"data":{"name":"mf"},"transform":[{"filter":"datum.var==='G'&&datum.rule===2"}],"mark":{"type":"area","fill":"#4747f5","stroke":"#111111","strokeWidth":1.2},"encoding":{"x":{"field":"x","type":"quantitative","axis":null},"y":{"field":"fill","type":"quantitative","axis":null,"stack":null},"y2":{"datum":0}}},
{"data":{"name":"vars"},"transform":[{"filter":"datum.var==='G'"}],"mark":{"type":"rule","color":"#ff3a00","strokeWidth":4.5},"encoding":{"x":{"datum":-0.3271,"type":"quantitative","axis":null},"x2":{"datum":1.1028},"y":{"datum":1.232,"type":"quantitative","axis":null}}},
{"data":{"name":"vars"},"transform":[{"filter":"datum.var==='G'"}],"mark":{"type":"rule","color":"#ff3a00","strokeWidth":4.5},"encoding":{"x":{"datum":-0.3271,"type":"quantitative","axis":null},"x2":{"datum":1.1028},"y":{"datum":-0.147,"type":"quantitative","axis":null}}},
{"data":{"name":"vars"},"transform":[{"filter":"datum.var==='G'"}],"mark":{"type":"rule","color":"#ff3a00","strokeWidth":4.5},"encoding":{"x":{"datum":1.1028,"type":"quantitative","axis":null}}}
]},

{"width":350,"height":91,"layer":[
{"data":{"name":"vars"},"transform":[{"filter":"datum.var==='pH'"}],"mark":{"type":"rect","fill":"#ffffff","stroke":"#1f1f1f","strokeWidth":1.5},"encoding":{"x":{"field":"lo","type":"quantitative","scale":{"domain":[5.0888,9.9953],"nice":false,"zero":false},"axis":null},"x2":{"field":"hi"},"y":{"datum":-0.088,"type":"quantitative","scale":{"domain":[-0.183,1.268],"nice":false,"zero":false},"axis":null},"y2":{"datum":1.06}}},
{"data":{"name":"vars"},"transform":[{"filter":"datum.var==='pH'"}],"mark":{"type":"rule","color":"#1f1f1f","strokeWidth":1},"encoding":{"x":{"field":"lo","type":"quantitative","axis":null},"x2":{"field":"hi"},"y":{"datum":0,"type":"quantitative","axis":null}}},
{"data":{"name":"mf"},"transform":[{"filter":"datum.var==='pH'&&datum.rule===3"}],"mark":{"type":"line","color":"#a3a33c","strokeWidth":1.3},"encoding":{"x":{"field":"x","type":"quantitative","axis":null},"y":{"field":"mf","type":"quantitative","axis":null}}},
{"data":{"name":"mf"},"transform":[{"filter":"datum.var==='pH'&&datum.rule===3"}],"mark":{"type":"area","fill":"#ffff00","stroke":"#111111","strokeWidth":1.2},"encoding":{"x":{"field":"x","type":"quantitative","axis":null},"y":{"field":"fill","type":"quantitative","axis":null,"stack":null},"y2":{"datum":0}}},
{"data":{"name":"vars"},"transform":[{"filter":"datum.var==='pH'"}],"mark":{"type":"rule","color":"#e0242c","strokeWidth":1.2},"encoding":{"x":{"field":"value","type":"quantitative","axis":null}}},
{"data":{"name":"vars"},"transform":[{"filter":"datum.var==='pH'"}],"mark":{"type":"rule","color":"#ff3a00","strokeWidth":4.5},"encoding":{"x":{"datum":5.222,"type":"quantitative","axis":null},"x2":{"datum":9.9953},"y":{"datum":1.232,"type":"quantitative","axis":null}}},
{"data":{"name":"vars"},"transform":[{"filter":"datum.var==='pH'"}],"mark":{"type":"rule","color":"#ff3a00","strokeWidth":4.5},"encoding":{"x":{"datum":5.222,"type":"quantitative","axis":null},"x2":{"datum":9.9953},"y":{"datum":-0.147,"type":"quantitative","axis":null}}},
{"data":{"name":"vars"},"transform":[{"filter":"datum.var==='pH'"}],"mark":{"type":"rule","color":"#ff3a00","strokeWidth":4.5},"encoding":{"x":{"datum":5.222,"type":"quantitative","axis":null}}},
{"data":{"name":"rules"},"transform":[{"filter":"datum.rule===3"}],"mark":{"type":"text","fontSize":18,"color":"#1f1f1f"},"encoding":{"x":{"datum":5.446,"type":"quantitative","axis":null},"y":{"datum":0.5,"type":"quantitative","axis":null},"text":{"field":"label","type":"nominal"}}}
]},
{"width":358,"height":91,"layer":[
{"data":{"name":"vars"},"transform":[{"filter":"datum.var==='ORP'"}],"mark":{"type":"rect","fill":"#ffffff","stroke":"#1f1f1f","strokeWidth":1.5},"encoding":{"x":{"field":"lo","type":"quantitative","scale":{"domain":[-415.05,165.05],"nice":false,"zero":false},"axis":null},"x2":{"field":"hi"},"y":{"datum":-0.088,"type":"quantitative","scale":{"domain":[-0.183,1.268],"nice":false,"zero":false},"axis":null},"y2":{"datum":1.06}}},
{"data":{"name":"vars"},"transform":[{"filter":"datum.var==='ORP'"}],"mark":{"type":"rule","color":"#1f1f1f","strokeWidth":1},"encoding":{"x":{"field":"lo","type":"quantitative","axis":null},"x2":{"field":"hi"},"y":{"datum":0,"type":"quantitative","axis":null}}},
{"data":{"name":"mf"},"transform":[{"filter":"datum.var==='ORP'&&datum.rule===3"}],"mark":{"type":"line","color":"#a3a33c","strokeWidth":1.3},"encoding":{"x":{"field":"x","type":"quantitative","axis":null},"y":{"field":"mf","type":"quantitative","axis":null}}},
{"data":{"name":"mf"},"transform":[{"filter":"datum.var==='ORP'&&datum.rule===3"}],"mark":{"type":"area","fill":"#ffff00","stroke":"#111111","strokeWidth":1.2},"encoding":{"x":{"field":"x","type":"quantitative","axis":null},"y":{"field":"fill","type":"quantitative","axis":null,"stack":null},"y2":{"datum":0}}},
{"data":{"name":"vars"},"transform":[{"filter":"datum.var==='ORP'"}],"mark":{"type":"rule","color":"#e0242c","strokeWidth":1.2},"encoding":{"x":{"field":"value","type":"quantitative","axis":null}}},
{"data":{"name":"vars"},"transform":[{"filter":"datum.var==='ORP'"}],"mark":{"type":"rule","color":"#ff3a00","strokeWidth":4.5},"encoding":{"y":{"datum":1.232,"type":"quantitative","axis":null}}},
{"data":{"name":"vars"},"transform":[{"filter":"datum.var==='ORP'"}],"mark":{"type":"rule","color":"#ff3a00","strokeWidth":4.5},"encoding":{"y":{"datum":-0.147,"type":"quantitative","axis":null}}}
]},
{"width":311,"height":91,"layer":[
{"data":{"name":"vars"},"transform":[{"filter":"datum.var==='G'"}],"mark":{"type":"rect","fill":"#ffffff","stroke":"#1f1f1f","strokeWidth":1.5},"encoding":{"x":{"field":"lo","type":"quantitative","scale":{"domain":[-0.3271,1.1262],"nice":false,"zero":false},"axis":null},"x2":{"field":"hi"},"y":{"datum":-0.088,"type":"quantitative","scale":{"domain":[-0.183,1.268],"nice":false,"zero":false},"axis":null},"y2":{"datum":1.06}}},
{"data":{"name":"vars"},"transform":[{"filter":"datum.var==='G'"}],"mark":{"type":"rule","color":"#1f1f1f","strokeWidth":1},"encoding":{"x":{"field":"lo","type":"quantitative","axis":null},"x2":{"field":"hi"},"y":{"datum":0,"type":"quantitative","axis":null}}},
{"data":{"name":"mf"},"transform":[{"filter":"datum.var==='G'&&datum.rule===3"}],"mark":{"type":"line","color":"#23236e","strokeWidth":1.3},"encoding":{"x":{"field":"x","type":"quantitative","axis":null},"y":{"field":"mf","type":"quantitative","axis":null}}},
{"data":{"name":"mf"},"transform":[{"filter":"datum.var==='G'&&datum.rule===3"}],"mark":{"type":"area","fill":"#4747f5","stroke":"#111111","strokeWidth":1.2},"encoding":{"x":{"field":"x","type":"quantitative","axis":null},"y":{"field":"fill","type":"quantitative","axis":null,"stack":null},"y2":{"datum":0}}},
{"data":{"name":"vars"},"transform":[{"filter":"datum.var==='G'"}],"mark":{"type":"rule","color":"#ff3a00","strokeWidth":4.5},"encoding":{"x":{"datum":-0.3271,"type":"quantitative","axis":null},"x2":{"datum":1.1028},"y":{"datum":1.232,"type":"quantitative","axis":null}}},
{"data":{"name":"vars"},"transform":[{"filter":"datum.var==='G'"}],"mark":{"type":"rule","color":"#ff3a00","strokeWidth":4.5},"encoding":{"x":{"datum":-0.3271,"type":"quantitative","axis":null},"x2":{"datum":1.1028},"y":{"datum":-0.147,"type":"quantitative","axis":null}}},
{"data":{"name":"vars"},"transform":[{"filter":"datum.var==='G'"}],"mark":{"type":"rule","color":"#ff3a00","strokeWidth":4.5},"encoding":{"x":{"datum":1.1028,"type":"quantitative","axis":null}}}
]},

{"width":350,"height":91,"layer":[
{"data":{"name":"vars"},"transform":[{"filter":"datum.var==='pH'"}],"mark":{"type":"rect","fill":"#ffffff","stroke":"#1f1f1f","strokeWidth":1.5},"encoding":{"x":{"field":"lo","type":"quantitative","scale":{"domain":[5.0888,9.9953],"nice":false,"zero":false},"axis":null},"x2":{"field":"hi"},"y":{"datum":-0.088,"type":"quantitative","scale":{"domain":[-0.183,1.268],"nice":false,"zero":false},"axis":null},"y2":{"datum":1.06}}},
{"data":{"name":"vars"},"transform":[{"filter":"datum.var==='pH'"}],"mark":{"type":"rule","color":"#1f1f1f","strokeWidth":1},"encoding":{"x":{"field":"lo","type":"quantitative","axis":null},"x2":{"field":"hi"},"y":{"datum":0,"type":"quantitative","axis":null}}},
{"data":{"name":"mf"},"transform":[{"filter":"datum.var==='pH'&&datum.rule===4"}],"mark":{"type":"line","color":"#a3a33c","strokeWidth":1.3},"encoding":{"x":{"field":"x","type":"quantitative","axis":null},"y":{"field":"mf","type":"quantitative","axis":null}}},
{"data":{"name":"mf"},"transform":[{"filter":"datum.var==='pH'&&datum.rule===4"}],"mark":{"type":"area","fill":"#ffff00","stroke":"#111111","strokeWidth":1.2},"encoding":{"x":{"field":"x","type":"quantitative","axis":null},"y":{"field":"fill","type":"quantitative","axis":null,"stack":null},"y2":{"datum":0}}},
{"data":{"name":"vars"},"transform":[{"filter":"datum.var==='pH'"}],"mark":{"type":"rule","color":"#e0242c","strokeWidth":1.2},"encoding":{"x":{"field":"value","type":"quantitative","axis":null}}},
{"data":{"name":"vars"},"transform":[{"filter":"datum.var==='pH'"}],"mark":{"type":"rule","color":"#ff3a00","strokeWidth":4.5},"encoding":{"x":{"datum":5.222,"type":"quantitative","axis":null},"x2":{"datum":9.9953},"y":{"datum":1.232,"type":"quantitative","axis":null}}},
{"data":{"name":"vars"},"transform":[{"filter":"datum.var==='pH'"}],"mark":{"type":"rule","color":"#ff3a00","strokeWidth":4.5},"encoding":{"x":{"datum":5.222,"type":"quantitative","axis":null},"x2":{"datum":9.9953},"y":{"datum":-0.147,"type":"quantitative","axis":null}}},
{"data":{"name":"vars"},"transform":[{"filter":"datum.var==='pH'"}],"mark":{"type":"rule","color":"#ff3a00","strokeWidth":4.5},"encoding":{"x":{"datum":5.222,"type":"quantitative","axis":null}}},
{"data":{"name":"rules"},"transform":[{"filter":"datum.rule===4"}],"mark":{"type":"text","fontSize":18,"color":"#1f1f1f"},"encoding":{"x":{"datum":5.446,"type":"quantitative","axis":null},"y":{"datum":0.5,"type":"quantitative","axis":null},"text":{"field":"label","type":"nominal"}}}
]},
{"width":358,"height":91,"layer":[
{"data":{"name":"vars"},"transform":[{"filter":"datum.var==='ORP'"}],"mark":{"type":"rect","fill":"#ffffff","stroke":"#1f1f1f","strokeWidth":1.5},"encoding":{"x":{"field":"lo","type":"quantitative","scale":{"domain":[-415.05,165.05],"nice":false,"zero":false},"axis":null},"x2":{"field":"hi"},"y":{"datum":-0.088,"type":"quantitative","scale":{"domain":[-0.183,1.268],"nice":false,"zero":false},"axis":null},"y2":{"datum":1.06}}},
{"data":{"name":"vars"},"transform":[{"filter":"datum.var==='ORP'"}],"mark":{"type":"rule","color":"#1f1f1f","strokeWidth":1},"encoding":{"x":{"field":"lo","type":"quantitative","axis":null},"x2":{"field":"hi"},"y":{"datum":0,"type":"quantitative","axis":null}}},
{"data":{"name":"mf"},"transform":[{"filter":"datum.var==='ORP'&&datum.rule===4"}],"mark":{"type":"line","color":"#a3a33c","strokeWidth":1.3},"encoding":{"x":{"field":"x","type":"quantitative","axis":null},"y":{"field":"mf","type":"quantitative","axis":null}}},
{"data":{"name":"mf"},"transform":[{"filter":"datum.var==='ORP'&&datum.rule===4"}],"mark":{"type":"area","fill":"#ffff00","stroke":"#111111","strokeWidth":1.2},"encoding":{"x":{"field":"x","type":"quantitative","axis":null},"y":{"field":"fill","type":"quantitative","axis":null,"stack":null},"y2":{"datum":0}}},
{"data":{"name":"vars"},"transform":[{"filter":"datum.var==='ORP'"}],"mark":{"type":"rule","color":"#e0242c","strokeWidth":1.2},"encoding":{"x":{"field":"value","type":"quantitative","axis":null}}},
{"data":{"name":"vars"},"transform":[{"filter":"datum.var==='ORP'"}],"mark":{"type":"rule","color":"#ff3a00","strokeWidth":4.5},"encoding":{"y":{"datum":1.232,"type":"quantitative","axis":null}}},
{"data":{"name":"vars"},"transform":[{"filter":"datum.var==='ORP'"}],"mark":{"type":"rule","color":"#ff3a00","strokeWidth":4.5},"encoding":{"y":{"datum":-0.147,"type":"quantitative","axis":null}}}
]},
{"width":311,"height":91,"layer":[
{"data":{"name":"vars"},"transform":[{"filter":"datum.var==='G'"}],"mark":{"type":"rect","fill":"#ffffff","stroke":"#1f1f1f","strokeWidth":1.5},"encoding":{"x":{"field":"lo","type":"quantitative","scale":{"domain":[-0.3271,1.1262],"nice":false,"zero":false},"axis":null},"x2":{"field":"hi"},"y":{"datum":-0.088,"type":"quantitative","scale":{"domain":[-0.183,1.268],"nice":false,"zero":false},"axis":null},"y2":{"datum":1.06}}},
{"data":{"name":"vars"},"transform":[{"filter":"datum.var==='G'"}],"mark":{"type":"rule","color":"#1f1f1f","strokeWidth":1},"encoding":{"x":{"field":"lo","type":"quantitative","axis":null},"x2":{"field":"hi"},"y":{"datum":0,"type":"quantitative","axis":null}}},
{"data":{"name":"mf"},"transform":[{"filter":"datum.var==='G'&&datum.rule===4"}],"mark":{"type":"line","color":"#23236e","strokeWidth":1.3},"encoding":{"x":{"field":"x","type":"quantitative","axis":null},"y":{"field":"mf","type":"quantitative","axis":null}}},
{"data":{"name":"mf"},"transform":[{"filter":"datum.var==='G'&&datum.rule===4"}],"mark":{"type":"area","fill":"#4747f5","stroke":"#111111","strokeWidth":1.2},"encoding":{"x":{"field":"x","type":"quantitative","axis":null},"y":{"field":"fill","type":"quantitative","axis":null,"stack":null},"y2":{"datum":0}}},
{"data":{"name":"vars"},"transform":[{"filter":"datum.var==='G'"}],"mark":{"type":"rule","color":"#ff3a00","strokeWidth":4.5},"encoding":{"x":{"datum":-0.3271,"type":"quantitative","axis":null},"x2":{"datum":1.1028},"y":{"datum":1.232,"type":"quantitative","axis":null}}},
{"data":{"name":"vars"},"transform":[{"filter":"datum.var==='G'"}],"mark":{"type":"rule","color":"#ff3a00","strokeWidth":4.5},"encoding":{"x":{"datum":-0.3271,"type":"quantitative","axis":null},"x2":{"datum":1.1028},"y":{"datum":-0.147,"type":"quantitative","axis":null}}},
{"data":{"name":"vars"},"transform":[{"filter":"datum.var==='G'"}],"mark":{"type":"rule","color":"#ff3a00","strokeWidth":4.5},"encoding":{"x":{"datum":1.1028,"type":"quantitative","axis":null}}}
]},

{"width":350,"height":118,"layer":[
{"data":{"name":"vars"},"transform":[{"filter":"datum.var==='pH'"}],"mark":{"type":"rule","color":"#e0242c","strokeWidth":1.2},"encoding":{"x":{"field":"value","type":"quantitative","scale":{"domain":[5.0888,9.9953],"nice":false,"zero":false},"axis":null},"y":{"datum":1.383,"type":"quantitative","scale":{"domain":[-0.802,1.383],"nice":false,"zero":false},"axis":null},"y2":{"datum":-0.043}}},
{"data":{"name":"vars"},"transform":[{"filter":"datum.var==='pH'"}],"mark":{"type":"text","fontSize":18,"color":"#1f1f1f","dx":-2},"encoding":{"x":{"field":"lo","type":"quantitative","axis":null},"y":{"datum":1.179,"type":"quantitative","axis":null},"text":{"field":"lo","type":"nominal"}}},
{"data":{"name":"vars"},"transform":[{"filter":"datum.var==='pH'"}],"mark":{"type":"text","fontSize":18,"color":"#1f1f1f","dx":-2},"encoding":{"x":{"field":"hi","type":"quantitative","axis":null},"y":{"datum":1.179,"type":"quantitative","axis":null},"text":{"field":"hi","type":"nominal"}}}
]},
{"width":358,"height":118,"layer":[
{"data":{"name":"vars"},"transform":[{"filter":"datum.var==='ORP'"}],"mark":{"type":"rule","color":"#e0242c","strokeWidth":1.2},"encoding":{"x":{"field":"value","type":"quantitative","scale":{"domain":[-415.05,165.05],"nice":false,"zero":false},"axis":null},"y":{"datum":1.383,"type":"quantitative","scale":{"domain":[-0.802,1.383],"nice":false,"zero":false},"axis":null},"y2":{"datum":-0.043}}},
{"data":{"name":"vars"},"transform":[{"filter":"datum.var==='ORP'"}],"mark":{"type":"text","fontSize":18,"color":"#1f1f1f","dx":-4},"encoding":{"x":{"field":"lo","type":"quantitative","axis":null},"y":{"datum":1.179,"type":"quantitative","axis":null},"text":{"field":"lo","type":"nominal"}}},
{"data":{"name":"vars"},"transform":[{"filter":"datum.var==='ORP'"}],"mark":{"type":"text","fontSize":18,"color":"#1f1f1f","dx":-3},"encoding":{"x":{"field":"hi","type":"quantitative","axis":null},"y":{"datum":1.179,"type":"quantitative","axis":null},"text":{"field":"hi","type":"nominal"}}}
]},
{"width":311,"height":118,"layer":[
{"data":{"name":"vars"},"transform":[{"filter":"datum.var==='G'"}],"mark":{"type":"rect","fill":"#ffffff","stroke":"#2b2bb0","strokeWidth":1.5},"encoding":{"x":{"field":"lo","type":"quantitative","scale":{"domain":[-0.3271,1.1262],"nice":false,"zero":false},"axis":null},"x2":{"field":"hi"},"y":{"datum":-0.172,"type":"quantitative","scale":{"domain":[-0.802,1.383],"nice":false,"zero":false},"axis":null},"y2":{"datum":1.161}}},
{"data":{"name":"agg"},"mark":{"type":"area","fill":"#4747f5","stroke":"#111111","strokeWidth":1.2},"encoding":{"x":{"field":"x","type":"quantitative","axis":null},"y":{"field":"mu","type":"quantitative","axis":null,"stack":null},"y2":{"datum":0}}},
{"data":{"name":"vars"},"transform":[{"filter":"datum.var==='G'"}],"mark":{"type":"rule","color":"#1f1f1f","strokeWidth":1},"encoding":{"x":{"field":"lo","type":"quantitative","axis":null},"x2":{"field":"hi"},"y":{"datum":0,"type":"quantitative","axis":null}}},
{"data":{"name":"vars"},"transform":[{"filter":"datum.var==='G'"}],"mark":{"type":"rule","color":"#ff0000","strokeWidth":7},"encoding":{"x":{"field":"value","type":"quantitative","axis":null},"y":{"datum":-0.061,"type":"quantitative","axis":null},"y2":{"datum":1.143}}},
{"data":{"name":"vars"},"transform":[{"filter":"datum.var==='G'"}],"mark":{"type":"text","fontSize":18,"color":"#2830a0","dx":-2},"encoding":{"x":{"field":"lo","type":"quantitative","axis":null},"y":{"datum":-0.506,"type":"quantitative","axis":null},"text":{"field":"lo","type":"nominal"}}},
{"data":{"name":"vars"},"transform":[{"filter":"datum.var==='G'"}],"mark":{"type":"text","fontSize":18,"color":"#2830a0","dx":-2},"encoding":{"x":{"field":"hi","type":"quantitative","axis":null},"y":{"datum":-0.506,"type":"quantitative","axis":null},"text":{"field":"hi","type":"nominal"}}}
]}
]
}
